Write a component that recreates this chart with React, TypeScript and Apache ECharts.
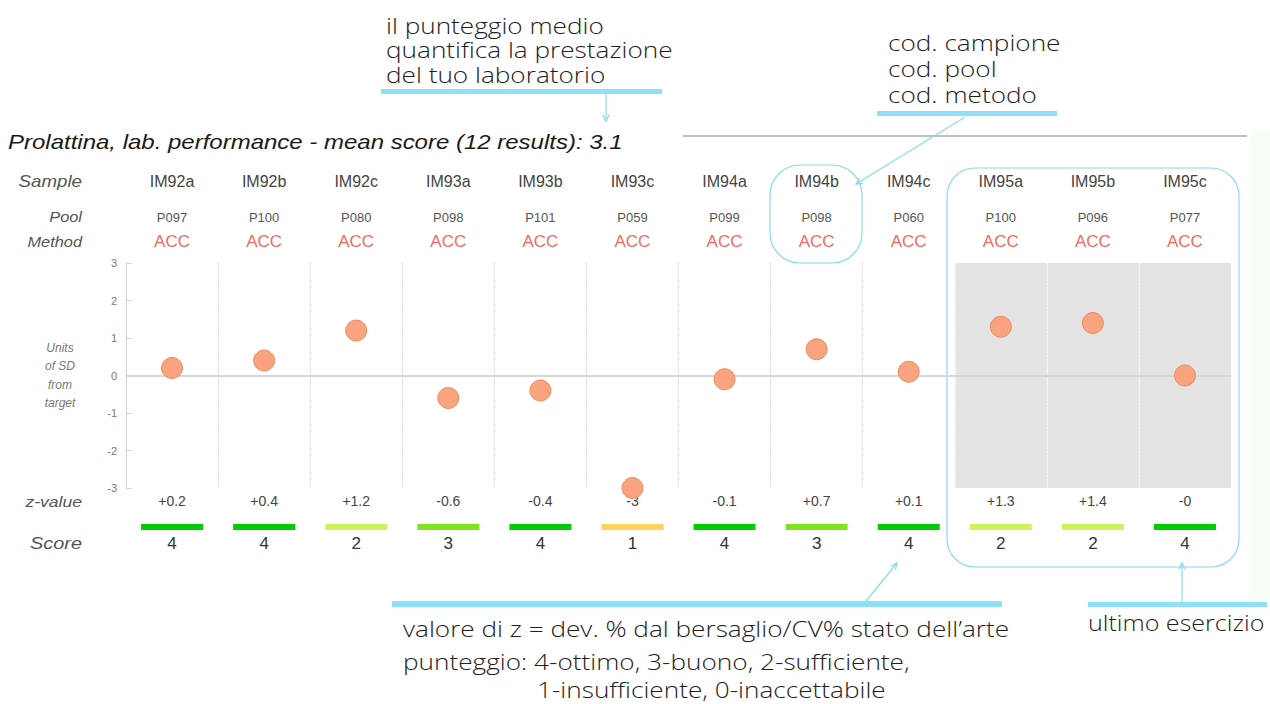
import React, { useEffect, useRef } from "react";
import * as echarts from "echarts";

const samples = ["IM92a", "IM92b", "IM92c", "IM93a", "IM93b", "IM93c", "IM94a", "IM94b", "IM94c", "IM95a", "IM95b", "IM95c"];
const pools = ["P097", "P100", "P080", "P098", "P101", "P059", "P099", "P098", "P060", "P100", "P096", "P077"];
const methods = ["ACC", "ACC", "ACC", "ACC", "ACC", "ACC", "ACC", "ACC", "ACC", "ACC", "ACC", "ACC"];
const zValues = [0.2, 0.4, 1.2, -0.6, -0.4, -3, -0.1, 0.7, 0.1, 1.3, 1.4, -0];
const zLabels = ["+0.2", "+0.4", "+1.2", "-0.6", "-0.4", "-3", "-0.1", "+0.7", "+0.1", "+1.3", "+1.4", "-0"];
const scores = [4, 4, 2, 3, 4, 1, 4, 3, 4, 2, 2, 4];
const yTicks = [-3, -2, -1, 0, 1, 2, 3];

const FONT = "Liberation Sans, Arial, sans-serif";
const ANN = "Open Sans, Lato, sans-serif";
const CYAN = "#8EE0F9";
const CYAN_LINE = "#8AD8F2";

const scoreColors: Record<number, string> = { 4: "#00CC00", 3: "#7DE41E", 2: "#CCF55A", 1: "#FFD35A", 0: "#FF4040" };

function labelAxis(position: "top" | "bottom", offset: number, formatter: (v: string, i: number) => string, textStyle: any, rich?: any) {
  return {
    type: "category",
    data: samples,
    position,
    offset,
    gridIndex: 0,
    boundaryGap: true,
    axisLine: { show: false },
    axisTick: { show: false },
    splitLine: { show: false },
    axisLabel: {
      show: true,
      interval: 0,
      margin: 0,
      verticalAlign: "middle",
      formatter,
      fontFamily: FONT,
      ...textStyle,
      rich,
    },
  };
}

function rowLabel(text: string, y: number, size: number) {
  return {
    type: "text",
    x: 82,
    y,
    scaleX: 1.17,
    style: { text, x: 0, y: 0, align: "right", verticalAlign: "middle", fontFamily: FONT, fontStyle: "italic", fontSize: size, fill: "#555" },
  };
}

function annText(text: string, x: number, y: number, sx = 1.19) {
  return {
    type: "text",
    x,
    y,
    scaleX: sx,
    style: { text, x: 0, y: 0, align: "left", verticalAlign: "middle", fontFamily: ANN, fontWeight: 300, fontSize: 22, fill: "#1e1e1e" },
  };
}

function arrow(x1: number, y1: number, x2: number, y2: number) {
  const ang = Math.atan2(y2 - y1, x2 - x1);
  const L = 7, w = 0.45;
  return [
    { type: "line", shape: { x1, y1, x2, y2 }, style: { stroke: CYAN_LINE, lineWidth: 1.2 } },
    {
      type: "polyline",
      shape: {
        points: [
          [x2 - L * Math.cos(ang - w), y2 - L * Math.sin(ang - w)],
          [x2, y2],
          [x2 - L * Math.cos(ang + w), y2 - L * Math.sin(ang + w)],
        ],
      },
      style: { stroke: CYAN_LINE, lineWidth: 1.2, fill: null },
    },
  ];
}

export default function App() {
  const ref = useRef<HTMLDivElement>(null);
  useEffect(() => {
    if (!ref.current) return;
    const chart = echarts.init(ref.current, null, { renderer: "svg" });
    const splitAreaColors = scores.map((_, i) => (i >= 9 ? "#E3E3E3" : "rgba(0,0,0,0)"));
    const splitLineColors = [...samples.map((_, i) => (i >= 9 ? "#ffffff" : "#cfcfcf")), "#ffffff"];
    const rich: any = {};
    Object.keys(scoreColors).forEach((k) => {
      rich["b" + k] = { width: 62, height: 6, backgroundColor: scoreColors[Number(k)], fontSize: 1, lineHeight: 6 };
    });
    const option: any = {
      animation: false,
      backgroundColor: "#ffffff",
      grid: { left: 126, right: 39, top: 263, bottom: 216, containLabel: false },
      xAxis: [
        {
          type: "category",
          data: samples,
          position: "bottom",
          boundaryGap: true,
          axisLine: { show: false },
          axisTick: { show: false },
          axisLabel: { show: false },
          splitLine: { show: true, interval: 0, lineStyle: { color: splitLineColors, type: "dotted", width: 1.2 } },
          splitArea: { show: true, interval: 0, areaStyle: { color: splitAreaColors } },
        },
        labelAxis("top", 82, (v, i) => samples[i], { fontSize: 16, color: "#444" }),
        labelAxis("top", 46, (v, i) => pools[i], { fontSize: 13, color: "#555" }),
        labelAxis("top", 22, (v, i) => methods[i], { fontSize: 17, color: "#F26A62" }),
        labelAxis("bottom", 13, (v, i) => zLabels[i], { fontSize: 14, color: "#444" }),
        labelAxis("bottom", 39, (v, i) => `{b${scores[i]}| }`, { fontSize: 1 }, rich),
        labelAxis("bottom", 55, (v, i) => String(scores[i]), { fontSize: 17, color: "#333" }),
      ],
      yAxis: {
        type: "value",
        min: yTicks[0],
        max: yTicks[yTicks.length - 1],
        interval: 1,
        axisLine: { show: true, lineStyle: { color: "#d4d4d4", width: 1 } },
        axisTick: { show: true, inside: true, length: 6, lineStyle: { color: "#d4d4d4" } },
        axisLabel: { color: "#777", fontSize: 11, margin: 9, fontFamily: FONT },
        splitLine: { show: false },
        name: "Units\nof SD\nfrom\ntarget",
        nameLocation: "middle",
        nameGap: 66,
        nameRotate: 0,
        nameTextStyle: { fontStyle: "italic", fontSize: 12, color: "#777", lineHeight: 18.5, align: "center", fontFamily: FONT },
      },
      series: [
        {
          type: "scatter",
          xAxisIndex: 0,
          data: zValues,
          symbol: "circle",
          symbolSize: 21,
          clip: false,
          z: 5,
          itemStyle: { color: "#F9A47E", borderColor: "#EC8A62", borderWidth: 1, opacity: 1 },
          markLine: {
            silent: true,
            symbol: ["none", "none"],
            label: { show: false },
            lineStyle: { color: "#d6d6d6", width: 2, type: "solid" },
            data: [{ yAxis: 0 }],
            z: 1,
          },
        },
      ],
      graphic: [
        { type: "rect", shape: { x: 1250, y: 130, width: 20, height: 470 }, style: { fill: "#F7FDF7" }, z: -1 },
        {
          type: "text",
          x: 8,
          y: 142,
          scaleX: 1.2,
          style: { text: "Prolattina, lab. performance - mean score (12 results): 3.1", x: 0, y: 0, verticalAlign: "middle", fontFamily: FONT, fontStyle: "italic", fontSize: 20, fill: "#1a1a1a" },
        },
        { type: "line", shape: { x1: 683, y1: 136, x2: 1247, y2: 136 }, style: { stroke: "#aaaaaa", lineWidth: 1.5 } },
        rowLabel("Sample", 181, 16),
        rowLabel("Pool", 217, 14),
        rowLabel("Method", 242, 14),
        rowLabel("z-value", 501, 15),
        rowLabel("Score", 543, 17),
        annText("il punteggio medio", 386, 25),
        annText("quantifica la prestazione", 386, 49.5),
        annText("del tuo laboratorio", 386, 74),
        { type: "rect", shape: { x: 381, y: 89, width: 281, height: 5 }, style: { fill: CYAN } },
        ...arrow(606, 94, 606, 121),
        annText("cod. campione", 888, 42),
        annText("cod. pool", 888, 68),
        annText("cod. metodo", 888, 94),
        { type: "rect", shape: { x: 877, y: 111, width: 180, height: 5 }, style: { fill: CYAN } },
        ...arrow(965, 117, 856, 184),
        { type: "rect", shape: { x: 770, y: 165, width: 92, height: 98, r: 30 }, style: { fill: null, stroke: CYAN_LINE, lineWidth: 1.2 } },
        { type: "rect", shape: { x: 947, y: 168, width: 292, height: 399, r: 28 }, style: { fill: null, stroke: CYAN_LINE, lineWidth: 1.2 } },
        { type: "rect", shape: { x: 392, y: 601, width: 610, height: 6 }, style: { fill: CYAN } },
        ...arrow(866, 601, 897, 563),
        annText("valore di z = dev. % dal bersaglio/CV% stato dell\u2019arte", 403, 628),
        annText("punteggio: 4-ottimo, 3-buono, 2-sufficiente,", 403, 661),
        annText("1-insufficiente, 0-inaccettabile", 537, 689),
        { type: "rect", shape: { x: 1088, y: 602, width: 179, height: 5 }, style: { fill: CYAN } },
        ...arrow(1182, 602, 1182, 563),
        annText("ultimo esercizio", 1088, 623, 1.14),
      ],
    };
    chart.setOption(option);
    return () => chart.dispose();
  }, []);
  return <div ref={ref} style={{ position: "absolute", left: 0, top: 0, width: 1270, height: 704, background: "#fff" }} />;
}
